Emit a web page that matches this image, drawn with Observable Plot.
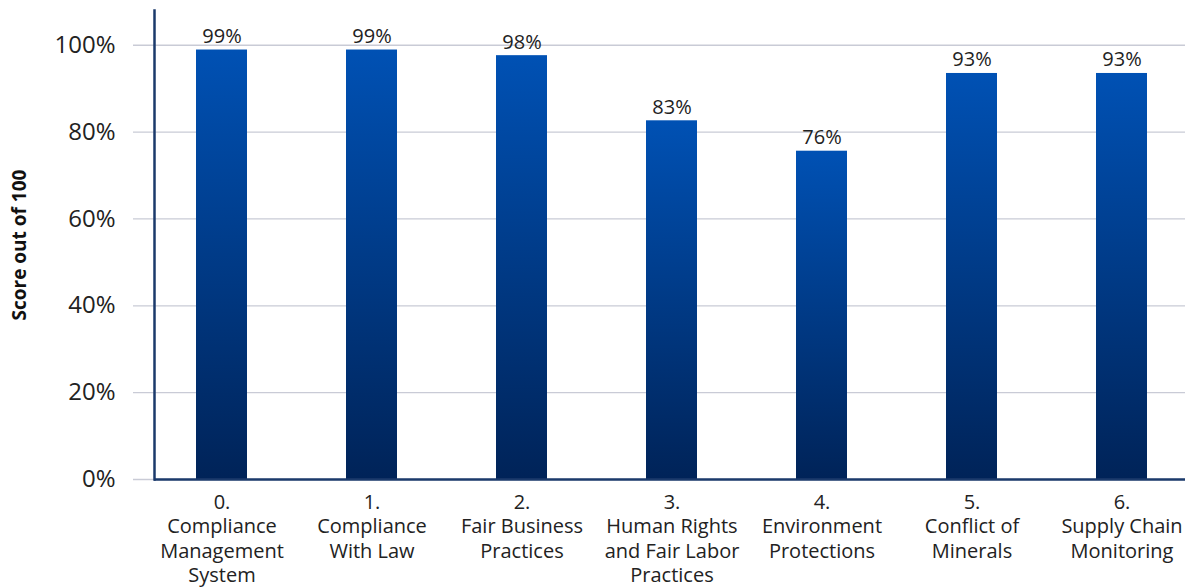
<!DOCTYPE html>
<html>
<head>
<meta charset="utf-8">
<script src="https://cdn.jsdelivr.net/npm/d3@7"></script>
<script src="https://cdn.jsdelivr.net/npm/@observablehq/plot@0.6"></script>
<style>
  html, body { margin: 0; padding: 0; background: #fff; }
  #chart { width: 1185px; height: 587px; overflow: hidden; }
  svg { font-family: "Open Sans", "Noto Sans", sans-serif; }
</style>
</head>
<body>
<div id="chart"></div>
<script>
const categories = [
  "0.\nCompliance\nManagement\nSystem",
  "1.\nCompliance\nWith Law",
  "2.\nFair Business\nPractices",
  "3.\nHuman Rights\nand Fair Labor\nPractices",
  "4.\nEnvironment\nProtections",
  "5.\nConflict of\nMinerals",
  "6.\nSupply Chain\nMonitoring"
];
const scores = [98.9, 98.9, 97.6, 82.6, 75.6, 93.5, 93.5];
const valueLabels = ["99%", "99%", "98%", "83%", "76%", "93%", "93%"];
const yTicks = [0, 20, 40, 60, 80, 100];

const data = categories.map((c, i) => ({cat: c, score: scores[i], label: valueLabels[i]}));

const gradient = () => {
  const svgNS = "http://www.w3.org/2000/svg";
  const defs = document.createElementNS(svgNS, "defs");
  defs.innerHTML = `<linearGradient id="barGrad" x1="0" y1="0" x2="0" y2="1">
      <stop offset="0%" stop-color="#0051B4"/>
      <stop offset="100%" stop-color="#002358"/>
    </linearGradient>`;
  return defs;
};

const chart = Plot.plot({
  width: 1185,
  height: 587,
  marginLeft: 154,
  marginRight: 0,
  marginTop: 10,
  marginBottom: 108,
  x: {domain: categories, range: [154, 1188], paddingInner: 0.662, paddingOuter: 0.255},
  y: {domain: [0, 108], ticks: yTicks},
  marks: [
    gradient,
    Plot.gridY(yTicks, {stroke: "#c9cbd6", strokeOpacity: 1, strokeWidth: 1.3, insetLeft: -21}),
    Plot.barY(data, {x: "cat", y: "score", fill: "url(#barGrad)"}),
    Plot.text(data, {x: "cat", y: "score", text: "label", lineAnchor: "bottom", dy: -7, fontSize: 20, fill: "#222"}),
    Plot.axisY(yTicks, {
      tickSize: 0, tickPadding: 39, tickFormat: d => d + "%", fontSize: 24, color: "#222",
      label: "Score out of 100", labelAnchor: "center", labelArrow: "none", labelOffset: 142
    }),
    Plot.axisX({tickSize: 0, tickPadding: 12, fontSize: 20, lineHeight: 1.22, color: "#222", label: null}),
    Plot.frame({anchor: "left", stroke: "#1b3a6b", strokeWidth: 2.5, strokeOpacity: 1}),
    Plot.ruleY([0], {stroke: "#1b3a6b", strokeWidth: 2.5})
  ]
});
chart.querySelectorAll("[aria-label='y-axis label'] text").forEach(t => {
  t.setAttribute("font-weight", "bold");
  t.setAttribute("font-size", "19");
  t.setAttribute("fill", "#111");
});
document.getElementById("chart").appendChild(chart);
</script>
</body>
</html>
